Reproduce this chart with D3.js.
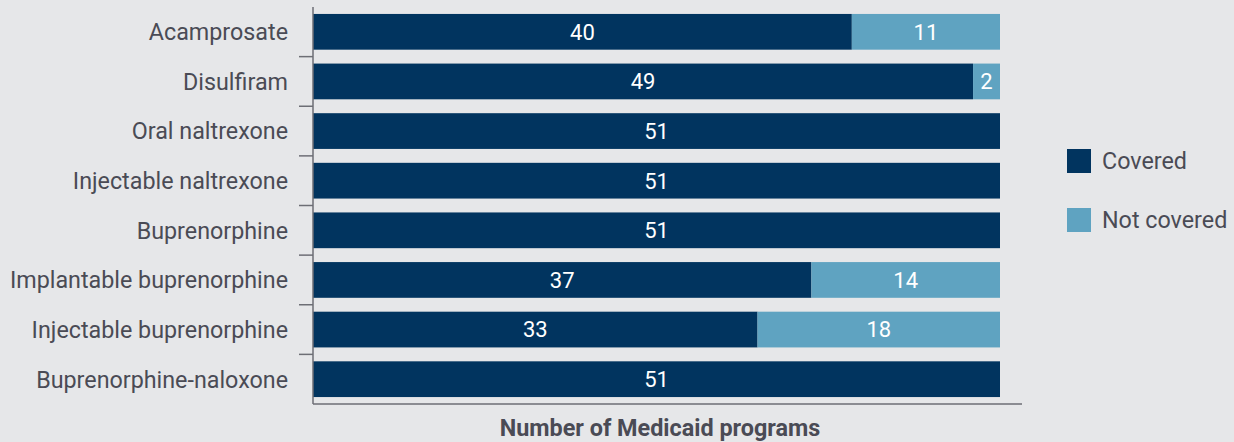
<!DOCTYPE html>
<html><head><meta charset="utf-8">
<script src="https://cdn.jsdelivr.net/npm/d3@7"></script>
<style>
html,body{margin:0;padding:0;background:#e6e7e9;}
svg{display:block;font-family:Roboto,"Noto Sans",sans-serif;}
</style></head>
<body><svg id="c" width="1234" height="442"></svg>
<script>
const categories = ["Acamprosate","Disulfiram","Oral naltrexone","Injectable naltrexone","Buprenorphine","Implantable buprenorphine","Injectable buprenorphine","Buprenorphine-naloxone"];
const covered = [40,49,51,51,51,37,33,51];
const notCovered = [11,2,0,0,0,14,18,0];
const seriesNames = ["Covered","Not covered"];
const axisTitle = "Number of Medicaid programs";

(function(){
const colors = ["#01345f","#5fa3c1"];
const svg = d3.select("#c");
const mLeft = 313, mRight = 1000, mTop = 7, mBottom = 404;

const y = d3.scaleBand().domain(categories).range([mTop, mBottom]).paddingInner(0.28).paddingOuter(0.14);
const x = d3.scaleLinear().domain([0, 51]).range([mLeft, mRight]);

const rows = categories.map((c,i)=>({cat:c, vals:[covered[i], notCovered[i]]}));

rows.forEach(r=>{
  let acc = 0;
  r.vals.forEach((v,j)=>{
    if(v>0){
      svg.append("rect").attr("x", x(acc)).attr("y", y(r.cat))
        .attr("width", x(acc+v)-x(acc)).attr("height", y.bandwidth()).attr("fill", colors[j]);
      svg.append("text").attr("x", (x(acc)+x(acc+v))/2).attr("y", y(r.cat)+y.bandwidth()/2)
        .attr("dy","0.36em").attr("text-anchor","middle").attr("fill","#fff")
        .attr("font-size",22).text(v);
    }
    acc += v;
  });
});

const step = y.step();
const g = svg.append("g");
g.append("line").attr("x1",mLeft).attr("x2",mLeft).attr("y1",mTop).attr("y2",mBottom).attr("stroke","#6d6e75").attr("stroke-width",1.5);
categories.forEach((c,i)=>{
  if(i>0){
    const ty = y(c) - y.paddingInner()*step/2;
    g.append("line").attr("x1",mLeft-14).attr("x2",mLeft).attr("y1",ty).attr("y2",ty).attr("stroke","#6d6e75").attr("stroke-width",1.5);
  }
  g.append("text").attr("x",288).attr("y",y(c)+y.bandwidth()/2).attr("dy","0.36em")
   .attr("text-anchor","end").attr("fill","#4a4b55").attr("font-size",23.3).text(c);
});
g.append("line").attr("x1",mLeft).attr("x2",1022).attr("y1",mBottom).attr("y2",mBottom).attr("stroke","#6d6e75").attr("stroke-width",1.5);
svg.append("text").attr("x",660).attr("y",436).attr("text-anchor","middle")
  .attr("font-weight","bold").attr("fill","#4a4b55").attr("font-size",23.4).text(axisTitle);

seriesNames.forEach((s,i)=>{
  const ly = 149 + i*59;
  svg.append("rect").attr("x",1067).attr("y",ly).attr("width",24).attr("height",24).attr("fill",colors[i]);
  svg.append("text").attr("x",1102).attr("y",ly+12).attr("dy","0.36em").attr("fill","#4a4b55").attr("font-size",23.3).text(s);
});
})();
</script></body></html>
